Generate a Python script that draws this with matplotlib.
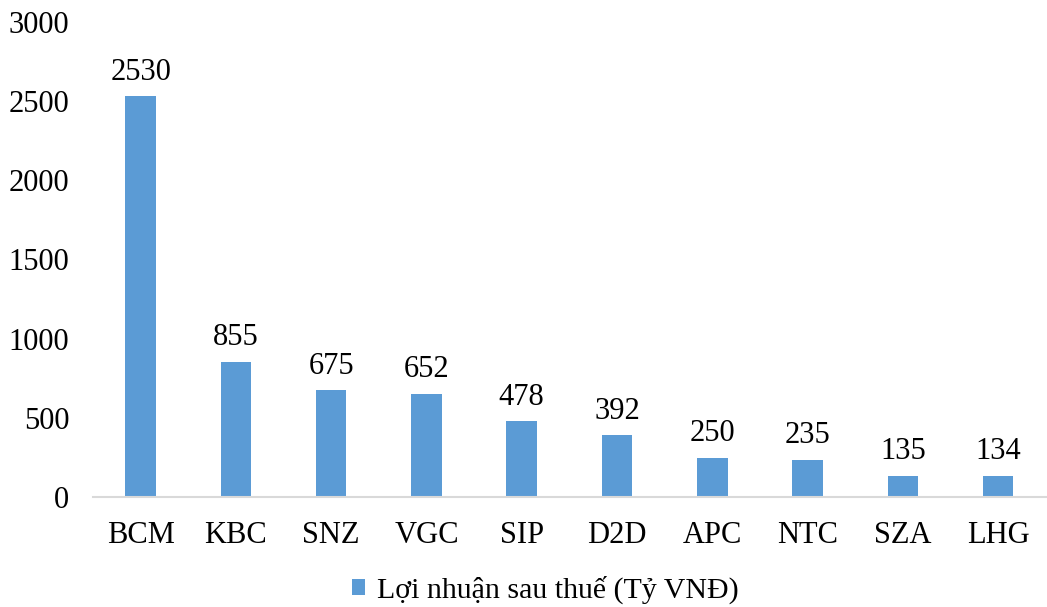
import matplotlib.pyplot as plt

companies = ['BCM', 'KBC', 'SNZ', 'VGC', 'SIP', 'D2D', 'APC', 'NTC', 'SZA', 'LHG']
profit = [2530, 855, 675, 652, 478, 392, 250, 235, 135, 134]

plt.rcParams['font.family'] = ['Liberation Serif', 'DejaVu Serif']

fig = plt.figure(figsize=(10.47, 6.07), dpi=100)
ax = fig.add_axes([0.0888, 0.181, 0.910, 0.783])

x = range(len(companies))
bars = ax.bar(x, profit, width=0.32, color='#5B9BD5', label='Lợi nhuận sau thuế (Tỷ VNĐ)')
for xi, v in zip(x, profit):
    ax.text(xi, v + 60, str(v), ha='center', va='bottom', fontsize=22)

ax.set_xlim(-0.5, len(companies) - 0.5)
ax.set_ylim(0, 3000)
ax.set_yticks(range(0, 3001, 500))
ax.set_xticks(list(x))
ax.set_xticklabels(companies)
ax.tick_params(axis='both', length=0, labelsize=22)
ax.tick_params(axis='x', pad=17)
ax.tick_params(axis='y', pad=17)

for side in ['top', 'right', 'left']:
    ax.spines[side].set_visible(False)
ax.spines['bottom'].set_color('#D9D9D9')
ax.spines['bottom'].set_linewidth(1.5)

fig.legend(loc='center', bbox_to_anchor=(0.521, 0.028), frameon=False, fontsize=21.5,
           handlelength=0.45, handleheight=0.45, handletextpad=0.4, borderpad=0)

fig.savefig('out.png', dpi=100, facecolor='white')
